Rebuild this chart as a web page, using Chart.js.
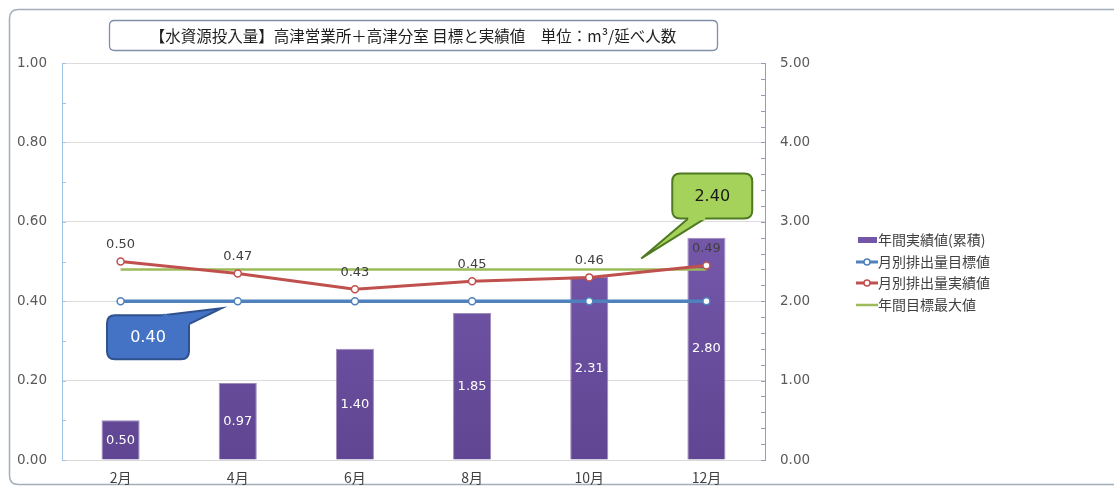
<!DOCTYPE html>
<html><head><meta charset="utf-8">
<script src="https://cdn.jsdelivr.net/npm/chart.js@4.4.1/dist/chart.umd.min.js"></script>
<style>html,body{margin:0;padding:0;background:#fff;}#wrap{width:1114px;height:486px;position:relative;}</style>
</head><body><div id="wrap"><canvas id="c" width="1114" height="486"></canvas></div>
<script>
// ---- data ----
const months = ['2月','4月','6月','8月','10月','12月'];
const annualCumulative = [0.50, 0.97, 1.40, 1.85, 2.31, 2.80];   // right axis
const monthlyTarget = [0.40, 0.40, 0.40, 0.40, 0.40, 0.40];       // left axis
const monthlyActual = [0.50, 0.47, 0.43, 0.45, 0.46, 0.49];       // left axis
const annualTargetMax = [2.40, 2.40, 2.40, 2.40, 2.40, 2.40];     // right axis
const seriesNames = ['年間実績値(累積)','月別排出量目標値','月別排出量実績値','年間目標最大値'];
const titleText = '【水資源投入量】高津営業所＋高津分室 目標と実績値　単位：m³/延べ人数';
const leftMax = 1.0, leftStep = 0.2, leftMinor = 0.1;
const rightMax = 5.0, rightStep = 1.0, rightMinor = 0.2;

const NUM_FONT = '"DejaVu Sans", Verdana, sans-serif';
const JP_FONT = '"Noto Sans CJK JP", "Noto Sans", sans-serif';
const C_PURPLE = '#7356A6', C_BLUE = '#4F81BD', C_RED = '#C0504D', C_GREEN = '#9BBB59';

function barGradient(ctx) {
  const ca = ctx.chart.chartArea;
  if (!ca) return C_PURPLE;
  const g = ctx.chart.ctx.createLinearGradient(0, ca.top, 0, ca.bottom);
  g.addColorStop(0, '#8666BC');
  g.addColorStop(1, '#5F4592');
  return g;
}

function roundRectPath(c, x, y, w, h, r) {
  c.beginPath();
  c.moveTo(x + r, y); c.lineTo(x + w - r, y); c.quadraticCurveTo(x + w, y, x + w, y + r);
  c.lineTo(x + w, y + h - r); c.quadraticCurveTo(x + w, y + h, x + w - r, y + h);
  c.lineTo(x + r, y + h); c.quadraticCurveTo(x, y + h, x, y + h - r);
  c.lineTo(x, y + r); c.quadraticCurveTo(x, y, x + r, y); c.closePath();
}

function callout(c, box, b1, b2, tip, fill, stroke, text, textColor) {
  c.save();
  c.lineWidth = 2; c.strokeStyle = stroke; c.fillStyle = fill;
  roundRectPath(c, box.x, box.y, box.w, box.h, 8);
  c.fill(); c.stroke();
  c.beginPath(); c.moveTo(b1[0], b1[1]); c.lineTo(tip[0], tip[1]); c.lineTo(b2[0], b2[1]);
  c.fill(); c.stroke();
  c.beginPath(); c.moveTo(b1[0], b1[1]); c.lineTo(b2[0], b2[1]);
  c.lineWidth = 3.5; c.strokeStyle = fill; c.stroke();
  c.fillStyle = textColor; c.font = '16px ' + NUM_FONT; c.textAlign = 'center'; c.textBaseline = 'middle';
  c.fillText(text, box.x + box.w / 2, box.y + box.h / 2 + 1);
  c.restore();
}

const decorPlugin = {
  id: 'decor',
  beforeDraw(chart) {
    const c = chart.ctx;
    c.save();
    c.fillStyle = '#fff'; c.fillRect(0, 0, chart.width, chart.height);
    c.strokeStyle = '#A4AEB9'; c.lineWidth = 1.5;
    roundRectPath(c, 9.5, 9.5, 1140, 475, 9);
    c.stroke();
    c.restore();
  },
  afterDatasetsDraw(chart) {
    const c = chart.ctx;
    const x = chart.scales.x, yl = chart.scales.y, yr = chart.scales.y1;
    c.save();
    c.strokeStyle = '#9DC3E6'; c.lineWidth = 1;
    for (let v = 0; v <= leftMax + 1e-9; v += leftMinor) {
      const py = Math.round(yl.getPixelForValue(v)) + 0.5;
      c.beginPath(); c.moveTo(yl.right, py); c.lineTo(yl.right + 4, py); c.stroke();
    }
    c.strokeStyle = '#8EA0B5';
    for (let v = 0; v <= rightMax + 1e-9; v += rightMinor) {
      const py = Math.round(yr.getPixelForValue(v)) + 0.5;
      c.beginPath(); c.moveTo(yr.left - 4, py); c.lineTo(yr.left, py); c.stroke();
    }
    c.font = '13px ' + NUM_FONT; c.textAlign = 'center'; c.textBaseline = 'middle';
    c.fillStyle = '#ffffff';
    annualCumulative.forEach((v, i) => {
      const px = x.getPixelForValue(i);
      const py = (yr.getPixelForValue(v) + yr.getPixelForValue(0)) / 2;
      c.fillText(v.toFixed(2), px, py);
    });
    c.fillStyle = '#404040';
    monthlyActual.forEach((v, i) => {
      c.fillText(v.toFixed(2), x.getPixelForValue(i), yl.getPixelForValue(v) - 17);
    });
    const bx = x.getPixelForValue(1), by = yl.getPixelForValue(monthlyTarget[0]);
    const btip = [bx - 16, by + 7];
    const bbox = {x: 107, y: btip[1] + 7, w: 82, h: 44};
    callout(c, bbox, [bbox.x + 56, bbox.y], [bbox.x + bbox.w, bbox.y + 9], btip,
      '#4472C4', '#2F528F', monthlyTarget[0].toFixed(2), '#ffffff');
    const gx = x.getPixelForValue(4) + 52, gy = yr.getPixelForValue(annualTargetMax[0]);
    const gtip = [gx, gy - 11];
    callout(c, {x: gx + 31, y: gtip[1] - 85, w: 80, h: 45}, [gx + 47, gtip[1] - 40], [gx + 64, gtip[1] - 40], gtip,
      '#A5D25A', '#4F7A22', annualTargetMax[0].toFixed(2), '#1a1a1a');
    c.restore();
  },
  afterDraw(chart) {
    const c = chart.ctx;
    c.save();
    c.fillStyle = '#fff'; c.strokeStyle = '#7F8FA6'; c.lineWidth = 1.3;
    roundRectPath(c, 109.5, 20.5, 608, 30, 5); c.fill(); c.stroke();
    c.fillStyle = '#1f1f1f'; c.font = '15.5px ' + JP_FONT; c.textAlign = 'center'; c.textBaseline = 'middle';
    c.fillText(titleText, 413, 36);
    const lx = 856, rows = [240, 262, 283, 305];
    c.font = '14px ' + JP_FONT; c.textAlign = 'left'; c.textBaseline = 'middle';
    c.fillStyle = C_PURPLE; c.fillRect(lx + 2, rows[0] - 3, 19, 6);
    [[C_BLUE, true], [C_RED, true], [C_GREEN, false]].forEach((s, k) => {
      const yy = rows[k + 1];
      c.strokeStyle = s[0]; c.lineWidth = s[1] ? 3 : 2.5;
      c.beginPath(); c.moveTo(lx, yy); c.lineTo(lx + 22, yy); c.stroke();
      if (s[1]) {
        c.beginPath(); c.arc(lx + 11, yy, 3, 0, Math.PI * 2);
        c.fillStyle = '#fff'; c.fill(); c.lineWidth = 1.5; c.stroke();
      }
    });
    c.fillStyle = '#404040';
    seriesNames.forEach((n, k) => c.fillText(n, lx + 22, rows[k]));
    c.restore();
  }
};

new Chart(document.getElementById('c'), {
  data: {
    labels: months,
    datasets: [
      { type: 'bar', label: seriesNames[0], data: annualCumulative, yAxisID: 'y1', order: 4,
        backgroundColor: barGradient, borderColor: 'rgba(90,60,140,0.6)', borderWidth: 1,
        categoryPercentage: 1, barPercentage: 0.325 },
      { type: 'line', label: seriesNames[1], data: monthlyTarget, yAxisID: 'y', order: 3,
        borderColor: C_BLUE, borderWidth: 3.5, pointRadius: 3.5, pointBorderWidth: 1.5,
        pointBackgroundColor: '#fff', pointBorderColor: C_BLUE, tension: 0 },
      { type: 'line', label: seriesNames[3], data: annualTargetMax, yAxisID: 'y1', order: 2,
        borderColor: C_GREEN, borderWidth: 2.5, pointRadius: 0, tension: 0 },
      { type: 'line', label: seriesNames[2], data: monthlyActual, yAxisID: 'y', order: 1,
        borderColor: C_RED, borderWidth: 3, pointRadius: 3.5, pointBorderWidth: 1.5,
        pointBackgroundColor: '#fff', pointBorderColor: C_RED, tension: 0 }
    ]
  },
  options: {
    responsive: false, animation: false, devicePixelRatio: 1,
    layout: { padding: { top: 63, bottom: 0, left: 0, right: 0 } },
    plugins: { legend: { display: false }, tooltip: { enabled: false }, title: { display: false } },
    scales: {
      x: {
        grid: { display: false, drawTicks: false },
        border: { color: '#D9D9D9', width: 1 },
        ticks: { color: '#404040', font: { family: JP_FONT, size: 14 }, padding: 9, maxRotation: 0 },
        afterFit(s) { s.height = 26; }
      },
      y: {
        position: 'left', min: 0, max: leftMax,
        grid: { color: '#DCDCDC', drawTicks: false },
        border: { color: '#9DC3E6', width: 1 },
        ticks: { stepSize: leftStep, color: '#595959', font: { family: NUM_FONT, size: 13.5 }, padding: 15,
                 callback: v => Number(v).toFixed(2) },
        afterFit(s) { s.width = 62; }
      },
      y1: {
        position: 'right', min: 0, max: rightMax,
        grid: { drawOnChartArea: false, drawTicks: false },
        border: { color: '#8EA0B5', width: 1 },
        ticks: { stepSize: rightStep, color: '#595959', font: { family: NUM_FONT, size: 13.5 }, padding: 15,
                 callback: v => Number(v).toFixed(2) },
        afterFit(s) { s.width = 349; }
      }
    }
  },
  plugins: [decorPlugin]
});
</script></body></html>
